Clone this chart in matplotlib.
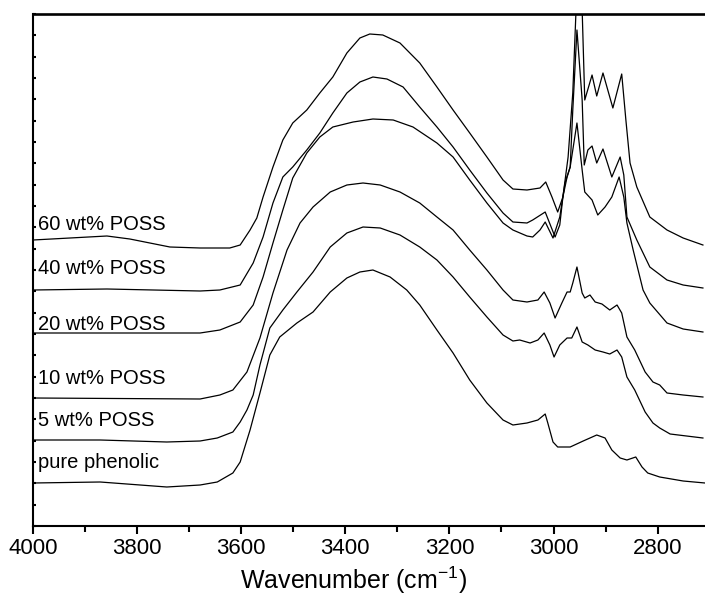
import matplotlib
matplotlib.use("Agg")
import matplotlib.pyplot as plt
from matplotlib.ticker import MultipleLocator
import numpy as np

plt.rcParams['font.family'] = ['Liberation Sans', 'DejaVu Sans']
plt.rcParams['mathtext.fontset'] = 'custom'
plt.rcParams['mathtext.rm'] = 'Liberation Sans'
plt.rcParams['mathtext.it'] = 'Liberation Sans:italic'
plt.rcParams['mathtext.bf'] = 'Liberation Sans:bold'

labels = ["pure phenolic", "5 wt% POSS", "10 wt% POSS", "20 wt% POSS", "40 wt% POSS", "60 wt% POSS"]
label_y = [0.63, 1.05, 1.48, 2.01, 2.58, 3.02]

pure_wn = [4000, 3871, 3743, 3679, 3646, 3616, 3602, 3583, 3564, 3545, 3526, 3493, 3462, 3429, 3397, 3372,
           3347, 3314, 3282, 3257, 3224, 3193, 3161, 3128, 3097, 3078, 3051, 3030, 3016, 3011, 3001, 2992,
           2968, 2943, 2917, 2901, 2888, 2872, 2859, 2842, 2830, 2819, 2796, 2751, 2709]
pure_y = [0.43, 0.44, 0.39, 0.41, 0.44, 0.53, 0.64, 0.96, 1.33, 1.71, 1.89, 2.03, 2.14, 2.34, 2.48, 2.54,
          2.56, 2.49, 2.36, 2.21, 1.96, 1.73, 1.46, 1.23, 1.06, 1.01, 1.03, 1.06, 1.12, 1.03, 0.84, 0.79,
          0.79, 0.85, 0.91, 0.88, 0.76, 0.68, 0.66, 0.69, 0.59, 0.53, 0.49, 0.45, 0.43]

p5_wn = [4000, 3871, 3743, 3679, 3646, 3616, 3602, 3589, 3577, 3564, 3545, 3520, 3493, 3462, 3429, 3397,
         3366, 3333, 3295, 3257, 3224, 3193, 3161, 3128, 3097, 3078, 3065, 3045, 3030, 3018, 3007, 2999,
         2988, 2974, 2965, 2955, 2945, 2934, 2920, 2905, 2892, 2878, 2869, 2859, 2844, 2824, 2809, 2796,
         2776, 2713]
p5_y = [0.86, 0.86, 0.84, 0.85, 0.88, 0.94, 1.04, 1.16, 1.31, 1.61, 1.98, 2.16, 2.34, 2.54, 2.79, 2.93,
        2.99, 2.98, 2.91, 2.79, 2.66, 2.49, 2.29, 2.09, 1.91, 1.85, 1.86, 1.83, 1.86, 1.93, 1.81, 1.69,
        1.81, 1.88, 1.88, 1.99, 1.84, 1.81, 1.76, 1.74, 1.72, 1.76, 1.69, 1.49, 1.36, 1.14, 1.03, 0.98,
        0.92, 0.88]

p10_wn = [4000, 3679, 3641, 3616, 3589, 3564, 3539, 3512, 3487, 3462, 3429, 3397, 3366, 3333, 3295, 3257,
          3224, 3193, 3161, 3128, 3097, 3078, 3051, 3030, 3018, 3007, 2997, 2984, 2974, 2968, 2963, 2955,
          2945, 2940, 2930, 2920, 2907, 2892, 2878, 2869, 2859, 2844, 2824, 2809, 2796, 2782, 2751, 2713]
p10_y = [1.28, 1.27, 1.31, 1.36, 1.54, 1.88, 2.33, 2.76, 3.03, 3.19, 3.34, 3.41, 3.43, 3.41, 3.34, 3.23,
         3.09, 2.96, 2.76, 2.56, 2.36, 2.26, 2.24, 2.26, 2.34, 2.23, 2.08, 2.23, 2.34, 2.34, 2.43, 2.59,
         2.33, 2.28, 2.31, 2.24, 2.22, 2.16, 2.21, 2.13, 1.89, 1.76, 1.54, 1.44, 1.41, 1.33, 1.31, 1.29]

p20_wn = [4000, 3679, 3641, 3602, 3577, 3558, 3539, 3520, 3501, 3474, 3449, 3424, 3385, 3347, 3308, 3270,
          3224, 3193, 3161, 3128, 3097, 3078, 3051, 3040, 3026, 3016, 3001, 2988, 2978, 2968, 2963, 2955,
          2945, 2940, 2926, 2915, 2901, 2888, 2874, 2865, 2859, 2847, 2828, 2815, 2782, 2751, 2713]
p20_y = [1.93, 1.93, 1.96, 2.04, 2.21, 2.49, 2.83, 3.16, 3.48, 3.73, 3.89, 3.99, 4.04, 4.07, 4.06, 3.99,
         3.83, 3.69, 3.46, 3.23, 3.03, 2.96, 2.90, 2.89, 2.96, 3.04, 2.88, 3.09, 3.43, 3.59, 3.76, 4.03,
         3.56, 3.34, 3.26, 3.11, 3.19, 3.29, 3.49, 3.29, 3.03, 2.76, 2.36, 2.23, 2.03, 1.97, 1.94]

p40_wn = [4000, 3858, 3679, 3641, 3602, 3577, 3558, 3539, 3520, 3501, 3474, 3449, 3424, 3397, 3372, 3347,
          3320, 3289, 3257, 3224, 3193, 3161, 3128, 3097, 3078, 3051, 3040, 3016, 2997, 2988, 2982, 2974,
          2968, 2963, 2955, 2945, 2941, 2934, 2926, 2917, 2905, 2888, 2872, 2865, 2859, 2840, 2815, 2782,
          2751, 2713]
p40_y = [2.36, 2.37, 2.35, 2.36, 2.41, 2.63, 2.89, 3.23, 3.49, 3.59, 3.76, 3.93, 4.13, 4.33, 4.44, 4.49,
         4.47, 4.39, 4.19, 3.99, 3.79, 3.56, 3.33, 3.13, 3.04, 3.03, 3.06, 3.14, 2.89, 3.01, 3.29, 3.49,
         3.59, 4.16, 4.96, 4.26, 3.61, 3.76, 3.80, 3.63, 3.77, 3.49, 3.69, 3.51, 3.09, 2.86, 2.59, 2.46,
         2.41, 2.38]

p60_wn = [4000, 3929, 3858, 3814, 3737, 3679, 3622, 3602, 3583, 3570, 3558, 3539, 3520, 3501, 3474, 3449,
          3424, 3397, 3372, 3353, 3328, 3295, 3257, 3224, 3193, 3161, 3128, 3097, 3078, 3051, 3026, 3015,
          3003, 2992, 2982, 2972, 2963, 2953, 2945, 2940, 2926, 2917, 2905, 2886, 2869, 2861, 2853, 2840,
          2815, 2782, 2751, 2713]
p60_y = [2.86, 2.88, 2.90, 2.87, 2.79, 2.78, 2.78, 2.81, 2.96, 3.08, 3.29, 3.59, 3.86, 4.03, 4.16, 4.33,
         4.49, 4.73, 4.88, 4.92, 4.91, 4.83, 4.63, 4.39, 4.16, 3.93, 3.69, 3.46, 3.37, 3.36, 3.38, 3.44,
         3.29, 3.14, 3.29, 3.69, 4.33, 5.66, 5.16, 4.26, 4.51, 4.30, 4.53, 4.18, 4.52, 4.06, 3.63, 3.39,
         3.09, 2.96, 2.88, 2.81]

series = [(pure_wn, pure_y), (p5_wn, p5_y), (p10_wn, p10_y), (p20_wn, p20_y), (p40_wn, p40_y), (p60_wn, p60_y)]

fig = plt.figure(figsize=(7.05, 6.05), dpi=100)
ax = fig.add_axes([33 / 705, 79 / 605, 1 - 33 / 705, (526 - 14) / 605])

for (wn, y) in series:
    ax.plot(wn, y, color='black', lw=0.9, solid_joinstyle='round')

for lab, ly in zip(labels, label_y):
    ax.text(3990, ly, lab, fontsize=14.5, ha='left', va='center')

ax.set_xlim(4000, 2709)
ax.set_ylim(0, 5.12)
ax.xaxis.set_major_locator(MultipleLocator(200))
ax.xaxis.set_minor_locator(MultipleLocator(100))
ax.yaxis.set_major_locator(MultipleLocator(5.12 / 24))
ax.set_yticklabels([])
ax.tick_params(axis='x', which='major', direction='out', length=6, width=1.5, labelsize=16, pad=3)
ax.tick_params(axis='x', which='minor', direction='out', length=4, width=1.5)
ax.tick_params(axis='y', which='major', direction='in', length=2.5, width=1.5, left=True, labelleft=False)
ax.tick_params(axis='x', which='both', top=False)
ax.spines['right'].set_visible(False)
for s in ['left', 'bottom']:
    ax.spines[s].set_linewidth(1.5)
ax.spines['top'].set_linewidth(1.9)

ax.set_xlabel('Wavenumber (cm$^{-1}$)', fontsize=18, va='center')
ax.xaxis.set_label_coords((354 - 33) / 672, (526 - 580) / 512)

fig.savefig('out.png', dpi=100)
